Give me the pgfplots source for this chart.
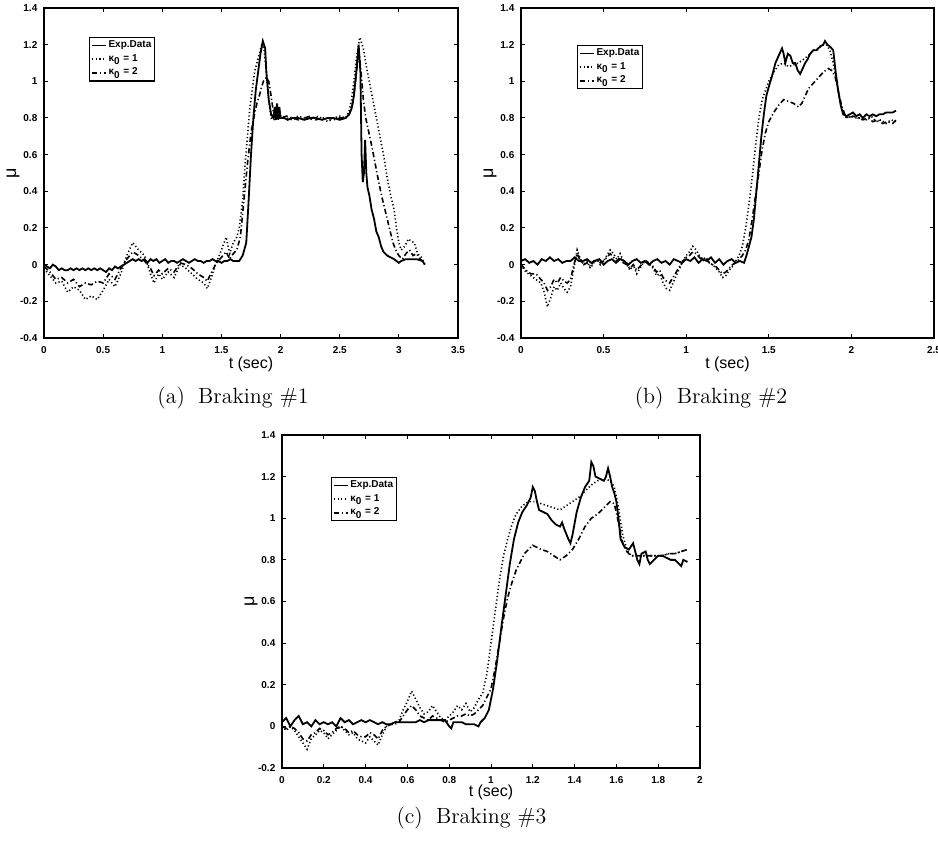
\documentclass[border=0pt]{standalone}
\usepackage{fontspec}
\usepackage{pgfplots}
\pgfplotsset{compat=1.18}
\newfontfamily\arialfont{Liberation Sans}
\pgfplotsset{
  brk/.style={
    scale only axis,
    anchor=south west,
    ymin=-0.4, ymax=1.4,
    ytick={-0.4,-0.2,0,0.2,0.4,0.6,0.8,1,1.2,1.4},
    tick align=inside,
    major tick length=2.2pt,
    axis line style={line width=0.6pt},
    every tick/.style={black, line width=0.5pt},
    /pgf/number format/assume math mode=true,
    every tick label/.append style={font=\arialfont\bfseries\fontsize{5}{6}\selectfont},
    xticklabel style={yshift=-0.6pt},
    yticklabel style={xshift=0.2pt},
    xlabel={t (sec)},
    ylabel={μ},
    xlabel style={font=\arialfont\fontsize{8}{10}\selectfont, at={(axis description cs:0.5,0)}, anchor=center, yshift=-13pt},
    ylabel style={font=\arialfont\fontsize{9}{10}\selectfont, at={(axis description cs:0,0.5)}, anchor=center, rotate=0, yshift=15.5pt},
    legend cell align=left,
    legend style={draw=black, line width=0.6pt, inner sep=0.8pt, row sep=0.5pt,
      font=\arialfont\bfseries\fontsize{5}{6}\selectfont, anchor=north west,
      nodes={inner sep=0.7pt}},
    legend image code/.code={\draw[#1] (0pt,0pt) -- (7pt,0pt);},
  },
  exp/.style={black, line width=0.9pt},
  ka/.style={black, line width=0.8pt, dash pattern=on 0.6pt off 1.2pt},
  kb/.style={black, line width=0.8pt, dash pattern=on 2.6pt off 1.3pt on 0.6pt off 1.3pt},
}
\begin{document}
\begin{tikzpicture}
\path[use as bounding box] (0pt,0pt) rectangle (469pt,423pt);
% ---------------- (a)
\begin{axis}[brk, at={(22pt,254pt)}, width=207pt, height=165pt,
  xmin=0, xmax=3.5, xtick={0,0.5,1,1.5,2,2.5,3,3.5},
  legend style={at={(0.109,0.912)}}]
\addplot[exp] coordinates {(0,0) (0.025,-0.01) (0.05,-0.02) (0.075,0.0) (0.1,-0.01) (0.125,-0.03) (0.15,-0.02) (0.175,-0.03) (0.2,-0.03) (0.225,-0.02) (0.25,-0.03) (0.275,-0.02) (0.3,-0.03) (0.325,-0.02) (0.35,-0.03) (0.375,-0.02) (0.4,-0.03) (0.425,-0.02) (0.45,-0.03) (0.475,-0.02) (0.5,-0.03) (0.525,-0.04) (0.55,-0.02) (0.575,-0.03) (0.6,-0.01) (0.625,-0.02) (0.65,-0.01) (0.675,0.0) (0.7,0.01) (0.725,0.02) (0.75,0.03) (0.775,0.02) (0.8,0.03) (0.825,0.02) (0.85,0.03) (0.875,0.01) (0.9,0.03) (0.925,0.02) (0.95,0.03) (0.975,0.01) (1.0,0.02) (1.025,0.03) (1.05,0.01) (1.075,0.02) (1.1,0.02) (1.125,0.01) (1.15,0.02) (1.175,0.03) (1.2,0.02) (1.225,0.01) (1.25,0.02) (1.275,0.03) (1.3,0.02) (1.325,0.02) (1.35,0.01) (1.375,0.02) (1.4,0.02) (1.425,0.03) (1.45,0.02) (1.475,0.02) (1.5,0.01) (1.525,0.02) (1.55,0.02) (1.575,0.03) (1.6,0.02) (1.625,0.02) (1.65,0.02) (1.68,0.05) (1.71,0.12) (1.73,0.35) (1.75,0.6) (1.77,0.8) (1.79,0.95) (1.81,1.05) (1.83,1.15) (1.85,1.22) (1.87,1.18) (1.88,1.05) (1.9,0.9) (1.92,0.82) (1.94,0.8) (1.95,0.86) (1.96,0.79) (1.97,0.88) (1.98,0.79) (1.99,0.86) (2.0,0.8) (2.03,0.8) (2.06,0.79) (2.1,0.8) (2.15,0.8) (2.2,0.79) (2.25,0.8) (2.3,0.8) (2.35,0.79) (2.4,0.8) (2.45,0.8) (2.5,0.79) (2.55,0.8) (2.58,0.82) (2.6,0.85) (2.62,0.92) (2.64,1.05) (2.66,1.2) (2.675,1.05) (2.685,0.6) (2.695,0.45) (2.705,0.5) (2.715,0.68) (2.725,0.5) (2.735,0.42) (2.75,0.38) (2.77,0.3) (2.79,0.25) (2.81,0.18) (2.83,0.15) (2.85,0.1) (2.87,0.07) (2.9,0.05) (2.93,0.04) (2.96,0.03) (3.0,0.01) (3.02,0.02) (3.06,0.03) (3.1,0.03) (3.15,0.03) (3.2,0.02) (3.22,0.0)};
\addlegendentry{Exp.Data}
\addplot[ka] coordinates {(0,-0.02) (0.05,-0.06) (0.1,-0.1) (0.15,-0.09) (0.2,-0.15) (0.25,-0.12) (0.3,-0.14) (0.35,-0.19) (0.4,-0.17) (0.45,-0.19) (0.5,-0.14) (0.55,-0.08) (0.6,-0.12) (0.65,-0.05) (0.7,0.05) (0.75,0.12) (0.8,0.08) (0.85,0.05) (0.9,-0.05) (0.93,-0.1) (0.97,-0.05) (1.0,-0.08) (1.05,-0.04) (1.1,-0.07) (1.15,0.0) (1.2,-0.02) (1.25,-0.05) (1.3,-0.08) (1.35,-0.1) (1.38,-0.13) (1.41,-0.08) (1.45,0.0) (1.5,0.08) (1.54,0.15) (1.57,0.06) (1.6,0.12) (1.63,0.15) (1.65,0.2) (1.68,0.35) (1.70,0.55) (1.72,0.7) (1.74,0.85) (1.76,0.95) (1.78,1.05) (1.8,1.1) (1.82,1.15) (1.84,1.2) (1.86,1.18) (1.88,1.05) (1.9,0.9) (1.92,0.8) (1.96,0.79) (2.0,0.81) (2.05,0.8) (2.1,0.79) (2.15,0.81) (2.2,0.8) (2.25,0.79) (2.3,0.81) (2.35,0.8) (2.4,0.78) (2.45,0.8) (2.5,0.81) (2.55,0.8) (2.58,0.84) (2.6,0.9) (2.62,1.0) (2.64,1.12) (2.67,1.24) (2.7,1.18) (2.72,1.1) (2.75,1.0) (2.78,0.9) (2.81,0.8) (2.84,0.7) (2.87,0.6) (2.9,0.48) (2.93,0.38) (2.96,0.3) (2.98,0.2) (3.0,0.12) (3.02,0.08) (3.05,0.1) (3.08,0.14) (3.1,0.13) (3.13,0.12) (3.16,0.06) (3.19,0.04) (3.22,0.0)};
\addlegendentry{κ\textsubscript{0} = 1}
\addplot[kb] coordinates {(0,-0.01) (0.05,-0.04) (0.1,-0.08) (0.15,-0.07) (0.2,-0.1) (0.25,-0.08) (0.3,-0.12) (0.35,-0.1) (0.4,-0.11) (0.45,-0.09) (0.5,-0.1) (0.55,-0.05) (0.6,-0.08) (0.65,-0.02) (0.7,0.03) (0.75,0.07) (0.8,0.05) (0.85,0.02) (0.9,-0.02) (0.93,-0.06) (0.97,-0.03) (1.0,-0.05) (1.05,-0.02) (1.1,-0.04) (1.15,0.01) (1.2,0.0) (1.25,-0.02) (1.3,-0.05) (1.35,-0.07) (1.38,-0.09) (1.41,-0.05) (1.45,0.0) (1.5,0.04) (1.54,0.07) (1.57,0.03) (1.6,0.06) (1.63,0.08) (1.66,0.15) (1.69,0.35) (1.72,0.55) (1.75,0.72) (1.78,0.82) (1.8,0.88) (1.82,0.92) (1.84,0.97) (1.86,1.01) (1.88,1.02) (1.9,1.0) (1.92,0.92) (1.94,0.83) (1.96,0.8) (2.0,0.8) (2.05,0.81) (2.1,0.8) (2.15,0.79) (2.2,0.8) (2.25,0.81) (2.3,0.79) (2.35,0.8) (2.4,0.8) (2.45,0.79) (2.5,0.8) (2.55,0.8) (2.58,0.82) (2.61,0.88) (2.63,0.98) (2.65,1.1) (2.665,1.15) (2.68,1.05) (2.7,0.9) (2.72,0.8) (2.74,0.74) (2.77,0.65) (2.8,0.55) (2.83,0.45) (2.86,0.36) (2.89,0.28) (2.92,0.2) (2.95,0.12) (2.98,0.07) (3.0,0.05) (3.03,0.03) (3.06,0.06) (3.09,0.08) (3.12,0.05) (3.15,0.06) (3.18,0.03) (3.22,0.01)};
\addlegendentry{κ\textsubscript{0} = 2}
\end{axis}
% ---------------- (b)
\begin{axis}[brk, at={(260.5pt,254pt)}, width=206.5pt, height=165pt,
  xmin=0, xmax=2.5, xtick={0,0.5,1,1.5,2,2.5},
  legend style={at={(0.136,0.888)}}]
\addplot[exp] coordinates {(0,0.02) (0.025,0.03) (0.05,0.01) (0.075,0.02) (0.1,0.0) (0.125,0.03) (0.15,0.02) (0.175,0.04) (0.2,0.02) (0.225,0.03) (0.25,0.01) (0.275,0.02) (0.3,0.02) (0.325,0.04) (0.35,0.02) (0.375,0.02) (0.4,0.03) (0.425,0.01) (0.45,0.02) (0.475,0.03) (0.5,0.0) (0.525,0.02) (0.55,0.03) (0.575,0.01) (0.6,0.03) (0.625,0.02) (0.65,0.0) (0.675,0.02) (0.7,0.03) (0.725,0.01) (0.75,0.02) (0.775,0.0) (0.8,0.02) (0.825,0.03) (0.85,0.01) (0.875,0.02) (0.9,0.0) (0.925,0.03) (0.95,0.02) (0.975,0.01) (1.0,0.03) (1.025,0.02) (1.05,0.04) (1.075,0.01) (1.1,0.03) (1.125,0.02) (1.15,0.04) (1.175,0.01) (1.2,0.03) (1.225,0.0) (1.25,0.02) (1.275,0.03) (1.3,0.01) (1.325,0.02) (1.35,0.01) (1.365,0.05) (1.38,0.1) (1.395,0.15) (1.41,0.25) (1.425,0.4) (1.44,0.55) (1.455,0.7) (1.47,0.82) (1.485,0.92) (1.5,0.97) (1.52,1.03) (1.54,1.1) (1.56,1.14) (1.58,1.18) (1.59,1.15) (1.6,1.1) (1.615,1.15) (1.63,1.14) (1.645,1.1) (1.66,1.1) (1.675,1.06) (1.69,1.04) (1.705,1.07) (1.72,1.1) (1.735,1.12) (1.75,1.15) (1.77,1.17) (1.79,1.17) (1.81,1.19) (1.83,1.2) (1.84,1.22) (1.855,1.2) (1.87,1.19) (1.89,1.17) (1.905,1.05) (1.92,0.95) (1.935,0.87) (1.95,0.82) (1.97,0.81) (1.99,0.82) (2.01,0.83) (2.03,0.81) (2.05,0.82) (2.07,0.8) (2.09,0.82) (2.11,0.81) (2.13,0.82) (2.15,0.81) (2.17,0.82) (2.19,0.82) (2.21,0.83) (2.23,0.83) (2.25,0.83) (2.27,0.84)};
\addlegendentry{Exp.Data}
\addplot[ka] coordinates {(0,0.0) (0.03,-0.04) (0.06,-0.06) (0.09,-0.08) (0.12,-0.1) (0.14,-0.15) (0.16,-0.23) (0.18,-0.18) (0.2,-0.12) (0.22,-0.14) (0.24,-0.1) (0.26,-0.13) (0.28,-0.15) (0.3,-0.12) (0.32,-0.02) (0.34,0.08) (0.36,0.03) (0.38,0.0) (0.4,0.02) (0.42,-0.02) (0.44,0.01) (0.46,0.03) (0.48,0.0) (0.5,0.02) (0.52,0.05) (0.54,0.08) (0.56,0.06) (0.58,0.03) (0.6,0.06) (0.62,0.02) (0.64,0.0) (0.66,-0.03) (0.68,0.0) (0.7,-0.05) (0.72,-0.02) (0.74,0.01) (0.76,0.02) (0.78,0.0) (0.8,-0.02) (0.82,-0.06) (0.84,-0.05) (0.86,-0.1) (0.88,-0.13) (0.9,-0.14) (0.92,-0.1) (0.94,-0.06) (0.96,-0.02) (0.98,0.02) (1.0,0.05) (1.02,0.07) (1.04,0.1) (1.06,0.08) (1.08,0.05) (1.1,0.03) (1.12,0.04) (1.14,0.01) (1.16,0.0) (1.18,-0.02) (1.2,-0.04) (1.22,-0.07) (1.24,-0.06) (1.26,-0.03) (1.28,-0.01) (1.3,0.02) (1.32,0.05) (1.34,0.1) (1.36,0.2) (1.38,0.33) (1.4,0.48) (1.42,0.65) (1.44,0.8) (1.46,0.9) (1.48,0.95) (1.5,1.0) (1.53,1.05) (1.56,1.09) (1.59,1.1) (1.62,1.08) (1.65,1.09) (1.68,1.1) (1.71,1.12) (1.74,1.14) (1.77,1.17) (1.8,1.18) (1.83,1.2) (1.85,1.2) (1.87,1.17) (1.89,1.1) (1.91,1.0) (1.93,0.9) (1.95,0.83) (1.97,0.8) (2.0,0.81) (2.03,0.8) (2.06,0.8) (2.09,0.79) (2.12,0.81) (2.15,0.78) (2.18,0.79) (2.21,0.77) (2.24,0.79) (2.27,0.78)};
\addlegendentry{κ\textsubscript{0} = 1}
\addplot[kb] coordinates {(0,0.0) (0.03,-0.03) (0.06,-0.05) (0.09,-0.05) (0.12,-0.08) (0.14,-0.1) (0.16,-0.14) (0.18,-0.12) (0.2,-0.08) (0.22,-0.1) (0.24,-0.07) (0.26,-0.09) (0.28,-0.1) (0.3,-0.08) (0.32,0.0) (0.34,0.06) (0.36,0.02) (0.38,0.0) (0.4,0.01) (0.42,-0.01) (0.44,0.02) (0.46,0.03) (0.48,0.01) (0.5,0.02) (0.52,0.04) (0.54,0.06) (0.56,0.04) (0.58,0.02) (0.6,0.04) (0.62,0.01) (0.64,0.0) (0.66,-0.02) (0.68,0.0) (0.7,-0.03) (0.72,-0.01) (0.74,0.01) (0.76,0.02) (0.78,0.0) (0.8,-0.01) (0.82,-0.04) (0.84,-0.03) (0.86,-0.07) (0.88,-0.09) (0.9,-0.1) (0.92,-0.07) (0.94,-0.04) (0.96,-0.01) (0.98,0.02) (1.0,0.04) (1.02,0.05) (1.04,0.07) (1.06,0.06) (1.08,0.04) (1.1,0.02) (1.12,0.03) (1.14,0.01) (1.16,0.0) (1.18,-0.01) (1.2,-0.03) (1.22,-0.05) (1.24,-0.04) (1.26,-0.02) (1.28,0.0) (1.3,0.01) (1.32,0.03) (1.34,0.05) (1.36,0.08) (1.38,0.14) (1.4,0.25) (1.42,0.38) (1.44,0.5) (1.46,0.63) (1.48,0.72) (1.5,0.78) (1.53,0.83) (1.56,0.87) (1.59,0.9) (1.62,0.89) (1.65,0.88) (1.68,0.86) (1.7,0.88) (1.72,0.92) (1.74,0.96) (1.77,0.99) (1.8,1.02) (1.83,1.05) (1.86,1.07) (1.88,1.06) (1.9,1.03) (1.92,0.95) (1.94,0.87) (1.96,0.82) (1.98,0.8) (2.01,0.81) (2.04,0.8) (2.07,0.79) (2.1,0.8) (2.13,0.78) (2.16,0.79) (2.19,0.77) (2.22,0.78) (2.25,0.77) (2.27,0.79)};
\addlegendentry{κ\textsubscript{0} = 2}
\end{axis}
% ---------------- (c)
\begin{axis}[brk, at={(141pt,39pt)}, width=209pt, height=166.5pt,
  xmin=0, xmax=2, ymin=-0.2, ymax=1.4, xtick={0,0.2,0.4,0.6,0.8,1,1.2,1.4,1.6,1.8,2},
  ytick={-0.2,0,0.2,0.4,0.6,0.8,1,1.2,1.4},
  xlabel style={yshift=0.8pt},
  legend style={at={(0.117,0.874)}}]
\addplot[exp] coordinates {(0,0.02) (0.02,0.04) (0.04,0.0) (0.06,0.03) (0.08,0.05) (0.1,0.01) (0.12,0.02) (0.14,0.0) (0.16,0.03) (0.18,0.01) (0.2,0.02) (0.22,0.01) (0.24,0.02) (0.26,0.0) (0.28,0.04) (0.3,0.02) (0.32,0.03) (0.34,0.01) (0.36,0.02) (0.38,0.03) (0.4,0.02) (0.42,0.03) (0.44,0.02) (0.46,0.01) (0.48,0.02) (0.5,0.01) (0.52,0.01) (0.54,0.02) (0.56,0.02) (0.58,0.02) (0.6,0.02) (0.62,0.02) (0.64,0.02) (0.66,0.03) (0.68,0.02) (0.7,0.03) (0.72,0.03) (0.74,0.03) (0.76,0.03) (0.78,0.03) (0.8,0.0) (0.81,-0.01) (0.82,0.02) (0.84,0.02) (0.86,0.02) (0.88,0.01) (0.9,0.01) (0.92,0.01) (0.94,0.0) (0.95,0.02) (0.97,0.04) (0.99,0.08) (1.01,0.18) (1.03,0.32) (1.05,0.48) (1.07,0.63) (1.09,0.78) (1.11,0.9) (1.13,0.98) (1.15,1.03) (1.17,1.06) (1.19,1.1) (1.2,1.15) (1.21,1.13) (1.22,1.08) (1.23,1.04) (1.25,1.03) (1.27,1.02) (1.29,0.99) (1.31,0.97) (1.33,0.96) (1.34,0.98) (1.35,0.95) (1.37,0.9) (1.38,0.88) (1.39,0.92) (1.41,1.03) (1.43,1.1) (1.45,1.15) (1.47,1.18) (1.48,1.27) (1.49,1.25) (1.5,1.2) (1.52,1.19) (1.54,1.18) (1.55,1.2) (1.56,1.24) (1.57,1.2) (1.58,1.15) (1.59,1.12) (1.6,1.08) (1.61,1.0) (1.62,0.9) (1.64,0.86) (1.66,0.85) (1.68,0.88) (1.7,0.8) (1.71,0.78) (1.72,0.83) (1.74,0.84) (1.75,0.8) (1.76,0.78) (1.78,0.8) (1.8,0.82) (1.82,0.82) (1.84,0.81) (1.86,0.8) (1.88,0.8) (1.9,0.78) (1.91,0.77) (1.92,0.8) (1.94,0.79)};
\addlegendentry{Exp.Data}
\addplot[ka] coordinates {(0,0.0) (0.02,-0.02) (0.04,0.0) (0.06,-0.02) (0.08,-0.05) (0.1,-0.08) (0.12,-0.11) (0.14,-0.06) (0.16,-0.04) (0.18,-0.02) (0.2,-0.03) (0.22,-0.06) (0.24,-0.04) (0.26,-0.02) (0.28,0.0) (0.3,-0.02) (0.32,-0.04) (0.34,-0.03) (0.36,-0.06) (0.38,-0.07) (0.4,-0.08) (0.42,-0.05) (0.44,-0.07) (0.46,-0.09) (0.48,-0.04) (0.5,0.0) (0.52,0.01) (0.54,0.02) (0.56,0.03) (0.58,0.08) (0.6,0.12) (0.62,0.17) (0.64,0.13) (0.66,0.09) (0.68,0.06) (0.7,0.07) (0.72,0.1) (0.74,0.07) (0.76,0.04) (0.78,0.03) (0.8,0.05) (0.82,0.07) (0.84,0.1) (0.86,0.08) (0.88,0.11) (0.9,0.07) (0.92,0.09) (0.94,0.13) (0.96,0.16) (0.98,0.25) (1.0,0.4) (1.02,0.55) (1.04,0.7) (1.06,0.82) (1.08,0.9) (1.1,0.97) (1.12,1.02) (1.15,1.06) (1.18,1.08) (1.21,1.08) (1.24,1.07) (1.27,1.06) (1.3,1.05) (1.33,1.04) (1.36,1.06) (1.39,1.08) (1.42,1.1) (1.45,1.13) (1.48,1.16) (1.51,1.18) (1.54,1.19) (1.57,1.18) (1.59,1.15) (1.61,1.05) (1.63,0.92) (1.65,0.85) (1.67,0.82) (1.7,0.82) (1.73,0.82) (1.76,0.82) (1.79,0.82) (1.82,0.82) (1.85,0.83) (1.88,0.83) (1.91,0.84) (1.94,0.85)};
\addlegendentry{κ\textsubscript{0} = 1}
\addplot[kb] coordinates {(0,0.0) (0.02,-0.01) (0.04,0.0) (0.06,-0.01) (0.08,-0.03) (0.1,-0.06) (0.12,-0.07) (0.14,-0.04) (0.16,-0.03) (0.18,-0.01) (0.2,-0.02) (0.22,-0.04) (0.24,-0.03) (0.26,-0.01) (0.28,0.0) (0.3,-0.01) (0.32,-0.03) (0.34,-0.02) (0.36,-0.04) (0.38,-0.05) (0.4,-0.05) (0.42,-0.03) (0.44,-0.04) (0.46,-0.06) (0.48,-0.02) (0.5,0.0) (0.52,0.01) (0.54,0.01) (0.56,0.02) (0.58,0.05) (0.6,0.08) (0.62,0.1) (0.64,0.08) (0.66,0.05) (0.68,0.04) (0.7,0.03) (0.72,0.05) (0.74,0.04) (0.76,0.03) (0.78,0.02) (0.8,0.03) (0.82,0.04) (0.84,0.05) (0.86,0.05) (0.88,0.06) (0.9,0.05) (0.92,0.06) (0.94,0.08) (0.96,0.1) (0.98,0.14) (1.0,0.18) (1.02,0.28) (1.04,0.4) (1.06,0.52) (1.08,0.62) (1.1,0.69) (1.12,0.75) (1.14,0.79) (1.16,0.83) (1.18,0.85) (1.2,0.87) (1.22,0.86) (1.24,0.85) (1.27,0.84) (1.3,0.82) (1.33,0.8) (1.36,0.82) (1.39,0.85) (1.42,0.9) (1.45,0.96) (1.48,1.0) (1.51,1.02) (1.54,1.05) (1.57,1.08) (1.59,1.07) (1.61,0.98) (1.63,0.88) (1.65,0.84) (1.67,0.82) (1.7,0.82) (1.73,0.82) (1.76,0.82) (1.79,0.82) (1.82,0.82) (1.85,0.83) (1.88,0.83) (1.91,0.84) (1.94,0.85)};
\addlegendentry{κ\textsubscript{0} = 2}
\end{axis}
% captions
\node[font=\fontsize{11}{13}\selectfont] at (116.5pt,224pt) {(a)\hskip0.6em Braking \#1};
\node[font=\fontsize{11}{13}\selectfont] at (355.5pt,224pt) {(b)\hskip0.6em Braking \#2};
\node[font=\fontsize{11}{13}\selectfont] at (235.75pt,14pt) {(c)\hskip0.6em Braking \#3};
\end{tikzpicture}
\end{document}
